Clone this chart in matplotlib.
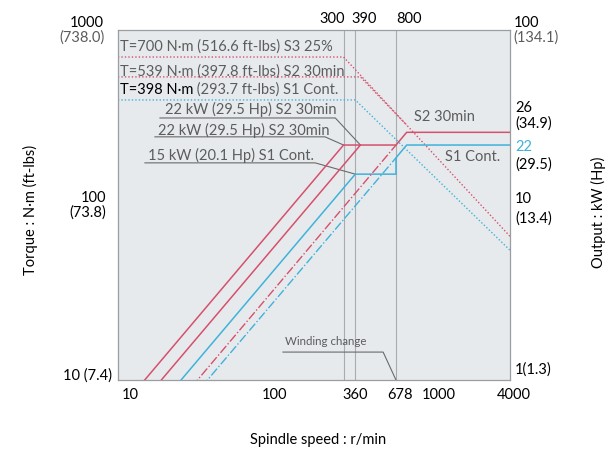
import matplotlib.pyplot as plt
import matplotlib.transforms as mtransforms
from matplotlib.ticker import NullLocator

plt.rcParams['font.family'] = ['Lato', 'DejaVu Sans']

red = '#d6506c'
cyan = '#3fb2da'
grey = '#5c5c5c'
vline = '#a8acae'

# speeds r/min
speed_ticks = [10, 100, 360, 678, 1000, 4000]
top_ticks = [300, 390, 800]
v_lines = [300, 360, 678]

# torque curves, N·m (left axis)
tq_s3_n = [9, 300, 4000]
tq_s3_t = [700, 700, 66]
tq_s2_n = [9, 390, 800]
tq_s2_t = [539, 539, 286]
tq_s1_n = [9, 360, 4000]
tq_s1_t = [398, 398, 55]

# output curves, kW (right axis)
pw_s3_n = [9, 300, 678, 800, 4000]
pw_s3_p = [0.66, 22, 22, 26, 26]
pw_s2_n = [9, 390]
pw_s2_p = [0.51, 22]
pw_s1_n = [9, 360, 678, 678, 800, 4000]
pw_s1_p = [0.375, 15, 15, 18.6, 22, 22]
pw_s2h_n = [9, 678]
pw_s2h_p = [0.29, 22]
pw_s1h_n = [9, 678]
pw_s1h_p = [0.25, 18.6]

fs = 10.5

fig = plt.figure(figsize=(6.14, 4.53), dpi=100)
ax = fig.add_axes([0.192, 0.161, 0.639, 0.773])
ax.set_facecolor('#e7eaed')
ax.set_xscale('log')
ax.set_yscale('log')
ax.set_xlim(9, 4000)
ax.set_ylim(10, 1000)
for s in ax.spines.values():
    s.set_color('#9a9ea0')
    s.set_linewidth(0.9)

ax2 = ax.twinx()
ax2.set_yscale('log')
ax2.set_ylim(1, 100)
ax2.yaxis.set_major_locator(NullLocator())
ax2.yaxis.set_minor_locator(NullLocator())
for s in ax2.spines.values():
    s.set_visible(False)

for v in v_lines:
    ax.axvline(v, color=vline, lw=0.8, zorder=1)

# torque
ax.plot(tq_s3_n, tq_s3_t, color=red, ls=(0, (1, 1.5)), lw=1)
ax.plot(tq_s2_n, tq_s2_t, color=red, ls=(0, (1, 1.5)), lw=1)
ax.plot(tq_s1_n, tq_s1_t, color=cyan, ls=(0, (1, 1.5)), lw=1)

# output
ax2.plot(pw_s3_n, pw_s3_p, color=red, lw=1.1)
ax2.plot(pw_s2_n, pw_s2_p, color=red, lw=1.1)
ax2.plot(pw_s1_n, pw_s1_p, color=cyan, lw=1.1)
ax2.plot(pw_s2h_n, pw_s2h_p, color=red, ls='-.', lw=1)
ax2.plot(pw_s1h_n, pw_s1h_p, color=cyan, ls='-.', lw=1)

# ticks
ax.set_xticks(speed_ticks)
ax.set_xticklabels([str(t) for t in speed_ticks])
ax.xaxis.set_minor_locator(NullLocator())
ax.yaxis.set_minor_locator(NullLocator())
ax.set_yticks([])
ax.tick_params(axis='x', length=0, pad=6, labelsize=fs)
top = ax.secondary_xaxis('top')
top.set_xticks(top_ticks)
top.set_xticklabels([str(t) for t in top_ticks])
top.xaxis.set_minor_locator(NullLocator())
top.tick_params(length=0, pad=3, labelsize=fs)
top.spines['top'].set_visible(False)

# nudge crowded tick labels sideways (pixels)
bottom_shift = [6, 2, 0, 4, 18, 4]
top_shift = [-11, 4, 2]
for lab, dx in zip(ax.get_xticklabels(), bottom_shift):
    lab.set_transform(lab.get_transform() + mtransforms.ScaledTranslation(dx / 100, 0, fig.dpi_scale_trans))
for lab, dx in zip(top.get_xticklabels(), top_shift):
    lab.set_transform(lab.get_transform() + mtransforms.ScaledTranslation(dx / 100, 0, fig.dpi_scale_trans))

ytr = ax.get_yaxis_transform()
ax.text(-0.035, 1000, '1000', transform=ytr, ha='right', va='bottom', fontsize=fs)
ax.text(-0.035, 1000, '(738.0)', transform=ytr, ha='right', va='top', fontsize=fs, color=grey)
ax.text(-0.03, 100, '100', transform=ytr, ha='right', va='bottom', fontsize=fs)
ax.text(-0.03, 100, '(73.8)', transform=ytr, ha='right', va='top', fontsize=fs)
ax.text(-0.015, 10.6, '10 (7.4)', transform=ytr, ha='right', va='center', fontsize=fs)

rtr = ax2.get_yaxis_transform()
ax2.text(1.008, 100, '100', transform=rtr, ha='left', va='bottom', fontsize=fs)
ax2.text(1.008, 100, '(134.1)', transform=rtr, ha='left', va='top', fontsize=fs, color=grey)
ax2.text(1.012, 36, '26', transform=rtr, ha='left', va='center', fontsize=fs)
ax2.text(1.012, 29, '(34.9)', transform=rtr, ha='left', va='center', fontsize=fs)
ax2.text(1.012, 21.5, '22', transform=rtr, ha='left', va='center', fontsize=fs, color=cyan)
ax2.text(1.012, 17, '(29.5)', transform=rtr, ha='left', va='center', fontsize=fs)
ax2.text(1.012, 10.8, '10', transform=rtr, ha='left', va='center', fontsize=fs)
ax2.text(1.012, 8.4, '(13.4)', transform=rtr, ha='left', va='center', fontsize=fs)
ax2.text(1.012, 1.05, '1(1.3)', transform=rtr, ha='left', va='bottom', fontsize=fs)

# curve labels
ax.text(9.3, 800, 'T=700 N·m (516.6 ft-lbs) S3 25%', fontsize=fs, color=grey, va='center')
ax.text(9.3, 575, 'T=539 N·m (397.8 ft-lbs) S2 30min', fontsize=fs, color=grey, va='center')
t1 = ax.text(9.3, 454, 'T=398 N·m', fontsize=fs, color='black', va='center')
ax.annotate(' (293.7 ft-lbs) S1 Cont.', xy=(1, 0.5), xycoords=t1, va='center',
            ha='left', fontsize=fs, color=grey)
ax.text(18.7, 349, '22 kW (29.5 Hp) S2 30min', fontsize=fs, color=grey, va='center')
ax.text(16.8, 268, '22 kW (29.5 Hp) S2 30min', fontsize=fs, color=grey, va='center')
ax.text(14.4, 193, '15 kW (20.1 Hp) S1 Cont.', fontsize=fs, color=grey, va='center')
ax.text(900, 318, 'S2 30min', fontsize=fs, color=grey, va='center')
ax.text(1460, 188, 'S1 Cont.', fontsize=fs, color=grey, va='center')
ax.text(120, 16.5, 'Winding change', fontsize=8.3, color=grey, va='center')

# leader lines
lc = '#6a6a6a'
ax.plot([17.3, 264, 390], [314, 314, 220], color=lc, lw=0.8)
ax.plot([16, 225, 300], [245, 245, 220], color=lc, lw=0.8)
ax.plot([13.7, 193, 360], [174, 174, 150], color=lc, lw=0.8)
ax.plot([117, 555, 678], [14.45, 14.45, 10], color=lc, lw=0.8)

fig.text(0.049, 0.536, 'Torque : N·m (ft-lbs)', rotation=90, ha='center', va='center', fontsize=fs)
fig.text(0.974, 0.532, 'Output : kW (Hp)', rotation=90, ha='center', va='center', fontsize=fs)
fig.text(0.518, 0.029, 'Spindle speed : r/min', ha='center', va='center', fontsize=fs)

fig.savefig('out.png', dpi=100)
